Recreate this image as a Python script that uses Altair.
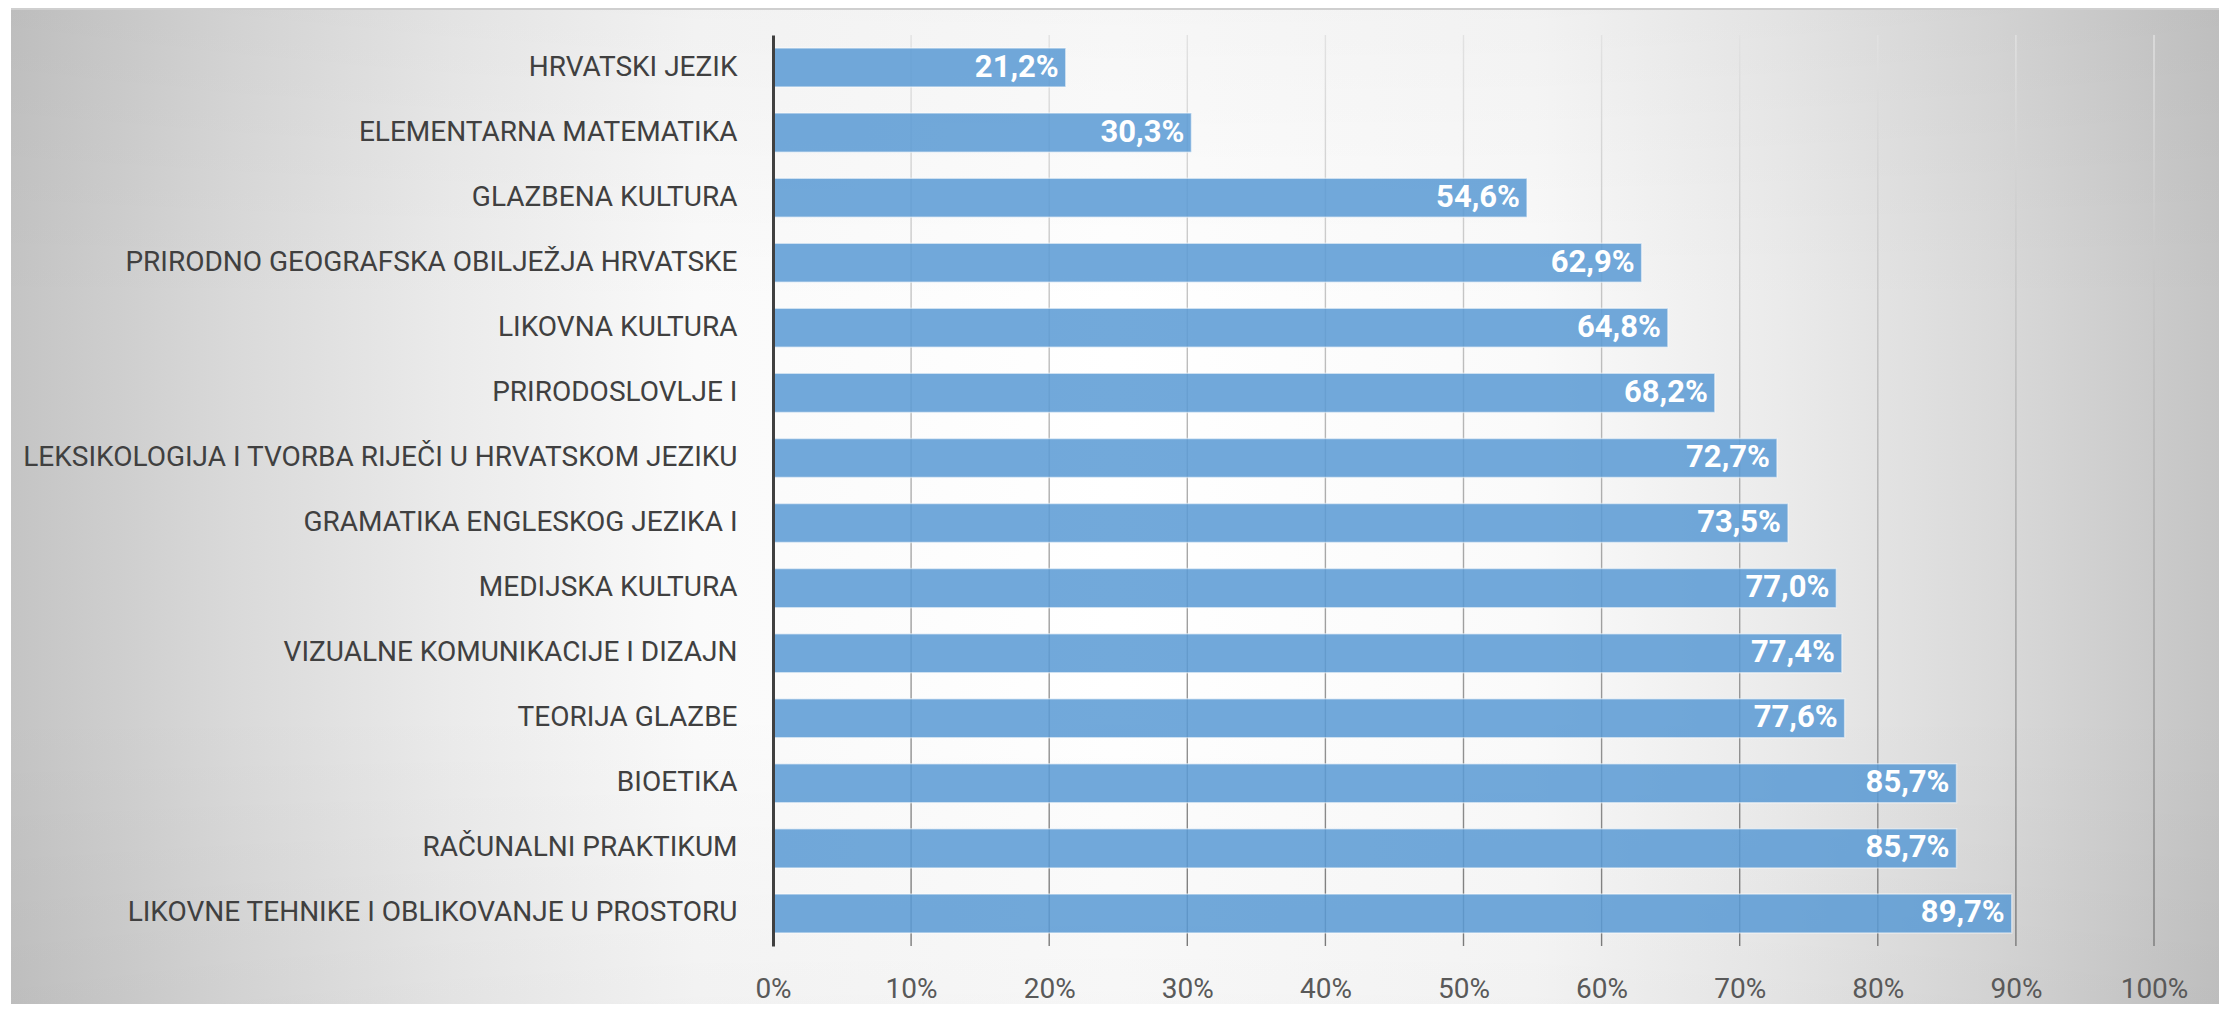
import altair as alt
import pandas as pd

subjects = [
    "HRVATSKI JEZIK",
    "ELEMENTARNA MATEMATIKA",
    "GLAZBENA KULTURA",
    "PRIRODNO GEOGRAFSKA OBILJEŽJA HRVATSKE",
    "LIKOVNA KULTURA",
    "PRIRODOSLOVLJE I",
    "LEKSIKOLOGIJA I TVORBA RIJEČI U HRVATSKOM JEZIKU",
    "GRAMATIKA ENGLESKOG JEZIKA I",
    "MEDIJSKA KULTURA",
    "VIZUALNE KOMUNIKACIJE I DIZAJN",
    "TEORIJA GLAZBE",
    "BIOETIKA",
    "RAČUNALNI PRAKTIKUM",
    "LIKOVNE TEHNIKE I OBLIKOVANJE U PROSTORU",
]
values = [21.2, 30.3, 54.6, 62.9, 64.8, 68.2, 72.7, 73.5, 77.0, 77.4, 77.6, 85.7, 85.7, 89.7]
x_ticks = [0, 0.1, 0.2, 0.3, 0.4, 0.5, 0.6, 0.7, 0.8, 0.9, 1.0]

FONT = "Roboto, Liberation Sans, sans-serif"

df = pd.DataFrame({
    "subject": subjects,
    "value": [v / 100 for v in values],
    "label": [f"{v:.1f}".replace(".", ",") + "%" for v in values],
})
grid_df = pd.DataFrame({"t": x_ticks[1:]})
one = pd.DataFrame({"a": [0]})

W, H = 1381, 911

xscale = alt.Scale(domain=[0, 1], nice=False, zero=True)
yscale = alt.Scale(paddingInner=0.4, paddingOuter=0.2)

BGX = dict(x=alt.value(-762), x2=alt.value(1446), y=alt.value(-27), y2=alt.value(973))

bg = alt.Chart(one).mark_rect(
    fill=alt.LinearGradient(
        gradient="linear",
        x1=0, x2=1, y1=0, y2=0,
        stops=[
            alt.GradientStop(offset=0, color="#c4c4c4"),
            alt.GradientStop(offset=0.1, color="#d9d9d9"),
            alt.GradientStop(offset=0.2, color="#ebebeb"),
            alt.GradientStop(offset=0.31, color="#fafafa"),
            alt.GradientStop(offset=0.5, color="#ffffff"),
            alt.GradientStop(offset=0.69, color="#fafafa"),
            alt.GradientStop(offset=0.8, color="#ebebeb"),
            alt.GradientStop(offset=0.9, color="#d9d9d9"),
            alt.GradientStop(offset=1, color="#c4c4c4"),
        ],
    ),
    strokeWidth=0,
).encode(**BGX)

bg_v = alt.Chart(one).mark_rect(
    fill=alt.LinearGradient(
        gradient="linear",
        x1=0, x2=0, y1=0, y2=1,
        stops=[
            alt.GradientStop(offset=0, color="rgba(0,0,0,0.035)"),
            alt.GradientStop(offset=0.3, color="rgba(0,0,0,0)"),
            alt.GradientStop(offset=0.7, color="rgba(0,0,0,0)"),
            alt.GradientStop(offset=1, color="rgba(0,0,0,0.035)"),
        ],
    ),
    strokeWidth=0,
).encode(**BGX)

border = alt.Chart(one).mark_rule(color="#cfcfcf", strokeWidth=2).encode(
    x=alt.value(-762), x2=alt.value(1446), y=alt.value(-26)
)

grid = alt.Chart(grid_df).mark_tick(
    orient="vertical",
    thickness=1.4,
    size=H,
    opacity=1,
    fill=alt.LinearGradient(
        gradient="linear",
        x1=0, x2=0, y1=0, y2=1,
        stops=[
            alt.GradientStop(offset=0, color="#e2e2e2"),
            alt.GradientStop(offset=1, color="#7a7a7a"),
        ],
    ),
).encode(
    x=alt.X("t:Q", scale=xscale),
    y=alt.value(H / 2),
)

bars = alt.Chart(df).mark_bar(
    color="#5B9BD5", opacity=0.86, stroke="#ffffff", strokeOpacity=0.55, strokeWidth=1.5
).encode(
    x=alt.X(
        "value:Q",
        scale=xscale,
        axis=alt.Axis(
            values=x_ticks, format=".0%", title=None, grid=False, domain=False,
            ticks=False, labelFontSize=28, labelColor="#595959", labelFont=FONT,
            labelPadding=29, labelFlush=False, zindex=1,
        ),
    ),
    y=alt.Y(
        "subject:N",
        sort=subjects,
        scale=yscale,
        axis=alt.Axis(
            title=None, grid=False, ticks=False, domain=True, domainColor="#404040",
            domainWidth=3, labelFontSize=28, labelColor="#404040", labelFont=FONT,
            labelPadding=36, labelLimit=900, zindex=1,
        ),
    ),
)

labels = alt.Chart(df).mark_text(
    align="right", baseline="middle", dx=-7, color="white", fontWeight="bold",
    fontSize=31, font=FONT,
).encode(
    x=alt.X("value:Q", scale=xscale),
    y=alt.Y("subject:N", sort=subjects, scale=yscale),
    text="label:N",
)

chart = alt.layer(bg, bg_v, border, grid, bars, labels).properties(
    width=W,
    height=H,
    padding={"left": 765, "top": 27, "right": 69, "bottom": 58},
    autosize=alt.AutoSizeParams(type="none"),
).configure_view(stroke=None).configure(background="white")

chart.save("out.html", embed_options={"renderer": "svg", "actions": False})
